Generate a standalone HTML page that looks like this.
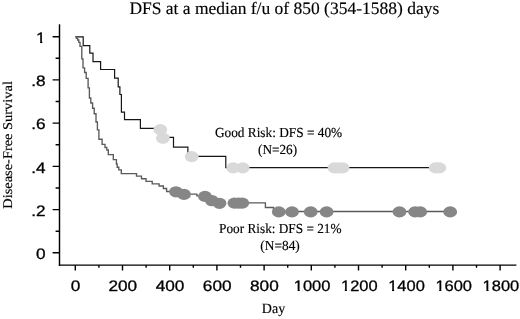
<!DOCTYPE html>
<html><head><meta charset="utf-8"><title>DFS</title>
<style>html,body{margin:0;padding:0;background:#fff}svg{display:block}</style></head>
<body>
<svg width="520" height="319" viewBox="0 0 520 319" text-rendering="geometricPrecision">
<rect width="520" height="319" fill="#fff"/>
<defs><clipPath id="c1"><path d="M-40 -20H40V-1.90H-40Z M-4.90 -2.00H-2.97V0.4H-4.90Z"/></clipPath><clipPath id="c4"><path d="M-40 -20H40V-1.60H-40Z M-13.30 -1.70H-11.36V0.4H-13.30Z M-8.76 -1.70H40V3H-8.76Z"/></clipPath></defs>
<text x="129.4" y="13.8" font-family="'Liberation Serif', serif" font-size="17.45" stroke="#000" stroke-width="0.15" textLength="309.8" lengthAdjust="spacingAndGlyphs" fill="#000">DFS at a median f/u of 850 (354-1588) days</text>
<g stroke="#000" fill="none" stroke-linecap="butt">
<path d="M59.5 24.3V265.8" stroke-width="1.45"/>
<path d="M58.8 265.15H516.4" stroke-width="1.4"/>
<path d="M52.6 36.7H59.5M55.6 58.3H59.5M52.6 79.9H59.5M55.6 101.5H59.5M52.6 123.1H59.5M55.6 144.8H59.5M52.6 166.4H59.5M55.6 188.0H59.5M52.6 209.6H59.5M55.6 231.2H59.5M52.6 252.8H59.5" stroke-width="1.4"/>
<path d="M75.3 265V270.4M98.9 265V267.8M122.5 265V270.4M146.1 265V267.8M169.7 265V270.4M193.3 265V267.8M216.9 265V270.4M240.5 265V267.8M264.1 265V270.4M287.7 265V267.8M311.3 265V270.4M334.9 265V267.8M358.5 265V270.4M382.1 265V267.8M405.7 265V270.4M429.3 265V267.8M452.9 265V270.4M476.5 265V267.8M500.1 265V270.4" stroke-width="1.4"/>
</g>
<g font-family="'Liberation Sans', sans-serif" font-size="15.1" fill="#000" stroke="#000" stroke-width="0.3">
<text transform="translate(45.7 42.9) scale(1.14 1)" text-anchor="end" clip-path="url(#c1)">1</text>
<text transform="translate(45.7 86.1) scale(1.14 1)" text-anchor="end">.8</text>
<text transform="translate(45.7 129.3) scale(1.14 1)" text-anchor="end">.6</text>
<text transform="translate(45.7 172.6) scale(1.14 1)" text-anchor="end">.4</text>
<text transform="translate(45.7 215.8) scale(1.14 1)" text-anchor="end">.2</text>
<text transform="translate(45.7 259.0) scale(1.14 1)" text-anchor="end">0</text>
<text transform="translate(75.6 290.6) scale(1.140 1)" text-anchor="middle">0</text>
<text transform="translate(122.8 290.6) scale(1.140 1)" text-anchor="middle">200</text>
<text transform="translate(170.0 290.6) scale(1.140 1)" text-anchor="middle">400</text>
<text transform="translate(217.2 290.6) scale(1.140 1)" text-anchor="middle">600</text>
<text transform="translate(264.4 290.6) scale(1.140 1)" text-anchor="middle">800</text>
<text transform="translate(312.1 290.6) scale(1.090 1)" text-anchor="middle" clip-path="url(#c4)">1000</text>
<text transform="translate(359.3 290.6) scale(1.090 1)" text-anchor="middle" clip-path="url(#c4)">1200</text>
<text transform="translate(406.5 290.6) scale(1.090 1)" text-anchor="middle" clip-path="url(#c4)">1400</text>
<text transform="translate(453.7 290.6) scale(1.090 1)" text-anchor="middle" clip-path="url(#c4)">1600</text>
<text transform="translate(500.9 290.6) scale(1.090 1)" text-anchor="middle" clip-path="url(#c4)">1800</text>
</g>
<g font-family="'Liberation Serif', serif" font-size="13.8" fill="#000" stroke="#000" stroke-width="0.15">
<text x="214.9" y="137.2" textLength="127.3" lengthAdjust="spacingAndGlyphs">Good Risk: DFS = 40%</text>
<text x="258" y="154" textLength="39.1" lengthAdjust="spacingAndGlyphs">(N=26)</text>
<text x="219.1" y="232.5" textLength="122.4" lengthAdjust="spacingAndGlyphs">Poor Risk: DFS = 21%</text>
<text x="260.3" y="249.5" textLength="39.5" lengthAdjust="spacingAndGlyphs">(N=84)</text>
<text x="261.8" y="313" font-size="14.2" textLength="23.4" lengthAdjust="spacingAndGlyphs">Day</text>
<text transform="translate(11.6 208.7) rotate(-90)" font-size="13.4" textLength="127.6" lengthAdjust="spacingAndGlyphs">Disease-Free Survival</text>
</g>
<path d="M75.6 36.8 L83.2 36.8 L83.2 45.6 L89.8 45.6 L89.8 53.2 L93.0 53.2 L93.0 61.6 L100.6 61.6 L100.6 69.5 L114.6 69.5 L114.6 78.1 L118.2 78.1 L118.2 86.8 L119.9 86.8 L119.9 94.5 L121.4 94.5 L121.4 112.1 L124.5 112.1 L124.5 119.6 L140.4 119.6 L140.4 128.4 L155.0 128.4 M169.0 137.4 L173.5 137.4 L173.5 147.2 L187.9 147.2 L187.9 156.4 L225.8 156.4 L225.8 167.6 L429.0 167.6" fill="none" stroke="#161616" stroke-width="1.2" stroke-linejoin="miter"/>
<path d="M75.2 36.8 L76.4 36.8 L76.4 38.4 L77.6 38.4 L77.6 40.0 L78.8 40.0 L78.8 42.4 L80.0 42.4 L80.0 46.3 L81.8 46.3 L81.8 58.8 L83.0 58.8 L83.0 67.8 L84.6 67.8 L84.6 72.5 L86.2 72.5 L86.2 78.4 L88.1 78.4 L88.1 87.8 L89.4 87.8 L89.4 98.0 L90.8 98.0 L90.8 103.0 L92.6 103.0 L92.6 108.2 L94.2 108.2 L94.2 113.7 L96.0 113.7 L96.0 122.0 L97.4 122.0 L97.4 129.8 L98.9 129.8 L98.9 139.2 L102.1 139.2 L102.1 144.3 L105.0 144.3 L105.0 147.5 L106.8 147.5 L106.8 150.0 L108.3 150.0 L108.3 154.6 L113.3 154.6 L113.3 159.6 L116.4 159.6 L116.4 164.0 L117.2 164.0 L117.2 167.2 L118.8 167.2 L118.8 169.8 L121.3 169.8 L121.3 173.6 L136.5 173.6 L136.5 176.1 L141.5 176.1 L141.5 178.7 L146.0 178.7 L146.0 181.3 L152.2 181.3 L152.2 183.9 L159.1 183.9 L159.1 186.0 L163.4 186.0 L163.4 188.5 L166.6 188.5 L166.6 191.5 L170.0 191.5 M190.0 194.1 L196.9 194.1 L196.9 195.8 L199.0 195.8 M248.0 202.9 L265.4 202.9 L265.4 207.5 L273.5 207.5 L273.5 211.5 L450.0 211.5" fill="none" stroke="#5a5a5a" stroke-width="1.35" stroke-linejoin="miter"/>
<g fill="#d9d9d9">
<ellipse cx="160.3" cy="129.6" rx="6.9" ry="5.6"/>
<ellipse cx="162.9" cy="138.2" rx="6.9" ry="5.6"/>
<ellipse cx="191.7" cy="156.6" rx="6.9" ry="5.6"/>
<ellipse cx="233.2" cy="167.9" rx="6.9" ry="5.6"/>
<ellipse cx="242.7" cy="167.9" rx="6.9" ry="5.6"/>
<ellipse cx="334.5" cy="167.9" rx="6.9" ry="5.6"/>
<ellipse cx="338.5" cy="167.9" rx="6.9" ry="5.6"/>
<ellipse cx="342.6" cy="167.9" rx="6.9" ry="5.6"/>
<ellipse cx="435.7" cy="167.9" rx="6.9" ry="5.6"/>
<ellipse cx="439.3" cy="167.9" rx="6.9" ry="5.6"/>
</g>
<g fill="#868686">
<ellipse cx="176.0" cy="191.8" rx="6.9" ry="5.6"/>
<ellipse cx="184.0" cy="194.4" rx="6.9" ry="5.6"/>
<ellipse cx="205.0" cy="196.4" rx="6.9" ry="5.6"/>
<ellipse cx="212.0" cy="200.7" rx="6.9" ry="5.6"/>
<ellipse cx="219.5" cy="203.3" rx="6.9" ry="5.6"/>
<ellipse cx="234.4" cy="203.1" rx="6.9" ry="5.6"/>
<ellipse cx="238.4" cy="203.1" rx="6.9" ry="5.6"/>
<ellipse cx="242.3" cy="203.1" rx="6.9" ry="5.6"/>
<ellipse cx="278.8" cy="211.9" rx="6.9" ry="5.6"/>
<ellipse cx="292.0" cy="211.9" rx="6.9" ry="5.6"/>
<ellipse cx="310.7" cy="211.9" rx="6.9" ry="5.6"/>
<ellipse cx="326.6" cy="211.9" rx="6.9" ry="5.6"/>
<ellipse cx="399.5" cy="211.9" rx="6.9" ry="5.6"/>
<ellipse cx="415.1" cy="211.9" rx="6.9" ry="5.6"/>
<ellipse cx="420.2" cy="211.9" rx="6.9" ry="5.6"/>
<ellipse cx="450.2" cy="211.9" rx="6.9" ry="5.6"/>
</g>
</svg>
</body></html>
